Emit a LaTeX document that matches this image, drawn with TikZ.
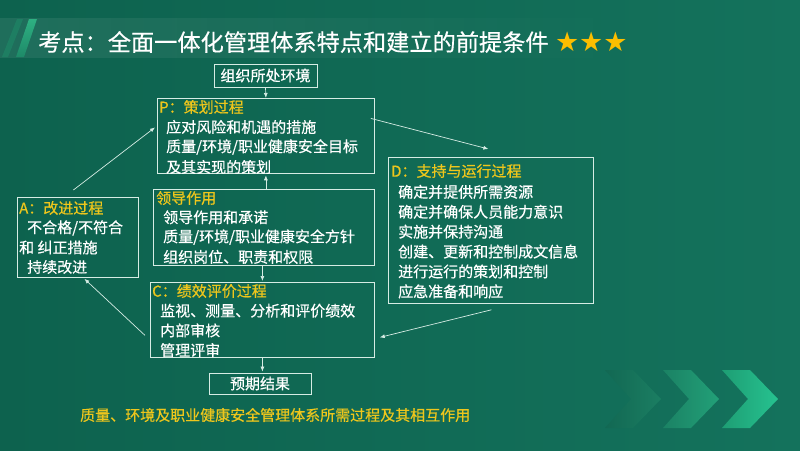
\documentclass[tikz,border=0pt]{standalone}
\usepackage{fontspec}
\setmainfont{Noto Sans CJK SC}[FakeBold=0.5]
\newfontfamily\symfont{DejaVu Sans}
\usetikzlibrary{arrows.meta,calc,fadings,positioning}

\definecolor{bgleft}{RGB}{13,98,78}
\definecolor{bgright}{RGB}{20,114,92}
\definecolor{ttlyellow}{RGB}{238,198,28}
\definecolor{staryellow}{RGB}{252,190,0}
\definecolor{linecol}{RGB}{214,236,228}
\definecolor{chA}{RGB}{18,104,83}
\definecolor{chB}{RGB}{27,126,98}
\definecolor{chC}{RGB}{27,130,100}
\definecolor{chD}{RGB}{34,160,120}
\definecolor{chE}{RGB}{30,158,116}
\definecolor{chF}{RGB}{38,194,144}
\definecolor{stripeA}{RGB}{30,138,104}
\definecolor{stripeB}{RGB}{46,176,130}

\tikzfading[name=fadeband, left color=transparent!0, right color=transparent!100]

\tikzset{
  box/.style={draw=linecol, line width=0.8pt, inner sep=0pt, anchor=north west},
  ttl/.style={text=ttlyellow, font=\fontsize{15}{15}\selectfont, anchor=west, inner sep=0pt},
  txt/.style={text=white, font=\fontsize{15}{15}\selectfont, anchor=west, inner sep=0pt},
  arr/.style={draw=linecol, line width=0.7pt, -{Latex[length=5pt,width=4pt]}},
}

\begin{document}
\begin{tikzpicture}[x=1pt,y=-1pt]

\useasboundingbox (0,0) rectangle (800,450);
\shade[left color=bgleft, right color=bgright] (0,0) rectangle (800,450);

% title band
\fill[white, fill opacity=0.08, path fading=fadeband] (0,18) rectangle (640,58);
\fill[stripeA, opacity=0.6] (17,19) -- (23,19) -- (8,57) -- (2,57) -- cycle;
\shade[bottom color=stripeA, top color=stripeB] (29,19) -- (37,19) -- (24,57) -- (16,57) -- cycle;

\node[anchor=west, text=white, inner sep=0pt, font=\fontsize{23.2}{23.2}\selectfont] (title) at (38,42)
    {考点：全面一体化管理体系特点和建立的前提条件};
\node[right=6pt of title, inner sep=0pt, text=staryellow, font=\symfont\fontsize{27}{27}\selectfont] (stars) {★★★};

% chevrons
\foreach \x/\l/\r in {605/chA/chB, 663/chC/chD, 722/chE/chF}
    \shade[left color=\l, right color=\r] (\x,370) -- (\x+28,370) -- (\x+56,399) -- (\x+28,428) -- (\x,428) -- (\x+26,399) -- cycle;

% boxes
\node[box, minimum width=103, minimum height=23, txt, anchor=center] (env) at (265.5,75.5) {组织所处环境};
\node[box, minimum width=217, minimum height=75] (plan) at (157,98) {};
\node[box, minimum width=221, minimum height=76] (lead) at (153,189) {};
\node[box, minimum width=224, minimum height=75] (check) at (150,282) {};
\node[box, minimum width=121, minimum height=80] (act) at (17,197) {};
\node[box, minimum width=205, minimum height=146] (run) at (388,157) {};
\node[box, minimum width=102, minimum height=21, txt, anchor=center] (result) at (260,383.5) {预期结果};

% texts
\node[ttl] (plan-t) at (159,107) {P：策划过程};
\foreach \t [count=\i] in {应对风险和机遇的措施, {质量/环境/职业健康安全目标}, 及其实现的策划}
    \node[txt] (plan-\i) at (166,107+20*\i) {\t};

\node[ttl] (lead-t) at (156,198) {领导作用};
\foreach \t [count=\i] in {领导作用和承诺, {质量/环境/职业健康安全方针}, 组织岗位、职责和权限}
    \node[txt] (lead-\i) at (163,197.5+19.8*\i) {\t};

\node[ttl] (check-t) at (152,291) {C：绩效评价过程};
\foreach \t [count=\i] in {监视、测量、分析和评价绩效, 内部审核, 管理评审}
    \node[txt] (check-\i) at (160,291+19.7*\i) {\t};

\node[ttl] (run-t) at (391,171) {D：支持与运行过程};
\foreach \t [count=\i] in {确定并提供所需资源, 确定并确保人员能力意识, 实施并保持沟通, 创建、更新和控制成文信息, 进行运行的策划和控制, 应急准备和响应}
    \node[txt] (run-\i) at (398,172+19.9*\i) {\t};

\node[ttl] (act-t) at (19,208) {A：改进过程};
\node[txt] (act-1) at (27,228) {不合格/不符合};
\node[txt] (act-2) at (19,247.5) {和 纠正措施};
\node[txt] (act-3) at (27,267) {持续改进};

\node[ttl] (caption) at (80,415) {质量、环境及职业健康安全管理体系所需过程及其相互作用};

% arrows
\draw[arr] (env.south) -- (plan.north);
\draw[arr, shorten >=1.5pt] (plan.south |- lead.north) -- (plan.south);
\draw[arr, shorten >=1pt] (lead.south -| check.north) -- (check.north);
\draw[arr, shorten >=1pt] (check.south) -- (check.south |- result.north);
\draw[arr] ($(act.north)+(-4.5,-7)$) -- ($(plan.west)+(-2,-8.5)$);
\draw[arr] ($(plan.east)+(-4,-17.5)$) -- ($(run.north)+(-2.5,-8)$);
\draw[arr] ($(run.south)+(0.5,6)$) -- ($(check.east)+(5,17.5)$);
\draw[arr] ($(check.west)+(-5,15.5)$) -- ($(act.south)+(6.5,1)$);

\end{tikzpicture}
\end{document}
